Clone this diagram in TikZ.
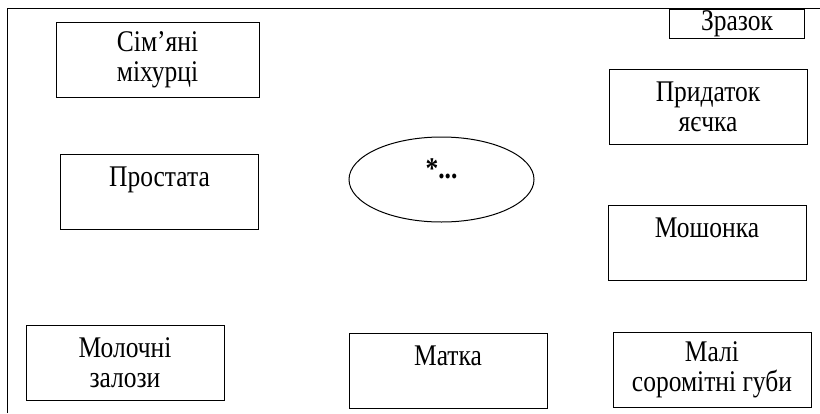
\documentclass[tikz,border=0pt]{standalone}
\usepackage{fontspec}
\setmainfont{Liberation Serif}[FakeStretch=0.85]
\usetikzlibrary{shapes.geometric}

\begin{document}
\begin{tikzpicture}[x=0.5pt, y=-0.5pt, line width=0.5pt,
  font=\fontsize{15}{15}\selectfont,
  organ/.style={draw, inner sep=0pt, minimum width=99pt,
    minimum height=37.5pt, align=center},
  sample/.style={draw, inner sep=0pt, minimum width=67.5pt,
    minimum height=14.5pt},
  centre/.style={draw, ellipse, inner sep=0pt, minimum width=92.5pt,
    minimum height=42.5pt, text height=9pt, text depth=10.5pt,
    font=\fontsize{15}{15}\selectfont\bfseries}]
\useasboundingbox (0,0) rectangle (820,413);
\draw (7.5,413) -- (7.5,8) -- (820,8);
\node[sample] (zrazok) at (737,23.5) {Зразок};
\node[organ, minimum width=101.5pt] (mikhurci) at (157.5,59.5) {Сім’яні\\міхурці};
\node[organ] (prostata) at (159.5,191.5) {Простата\\\mbox{}};
\node[organ] (molochni) at (125,362.5) {Молочні\\залози};
\node[centre] (core) at (441.5,179.5) {*...};
\node[organ] (matka) at (448,371) {Матка\\\mbox{}};
\node[organ] (prydatok) at (708,107) {Придаток\\яєчка};
\node[organ] (moshonka) at (707,243) {Мошонка\\\mbox{}};
\node[organ] (guby) at (712,370) {Малі\\соромітні губи};
\end{tikzpicture}
\end{document}
